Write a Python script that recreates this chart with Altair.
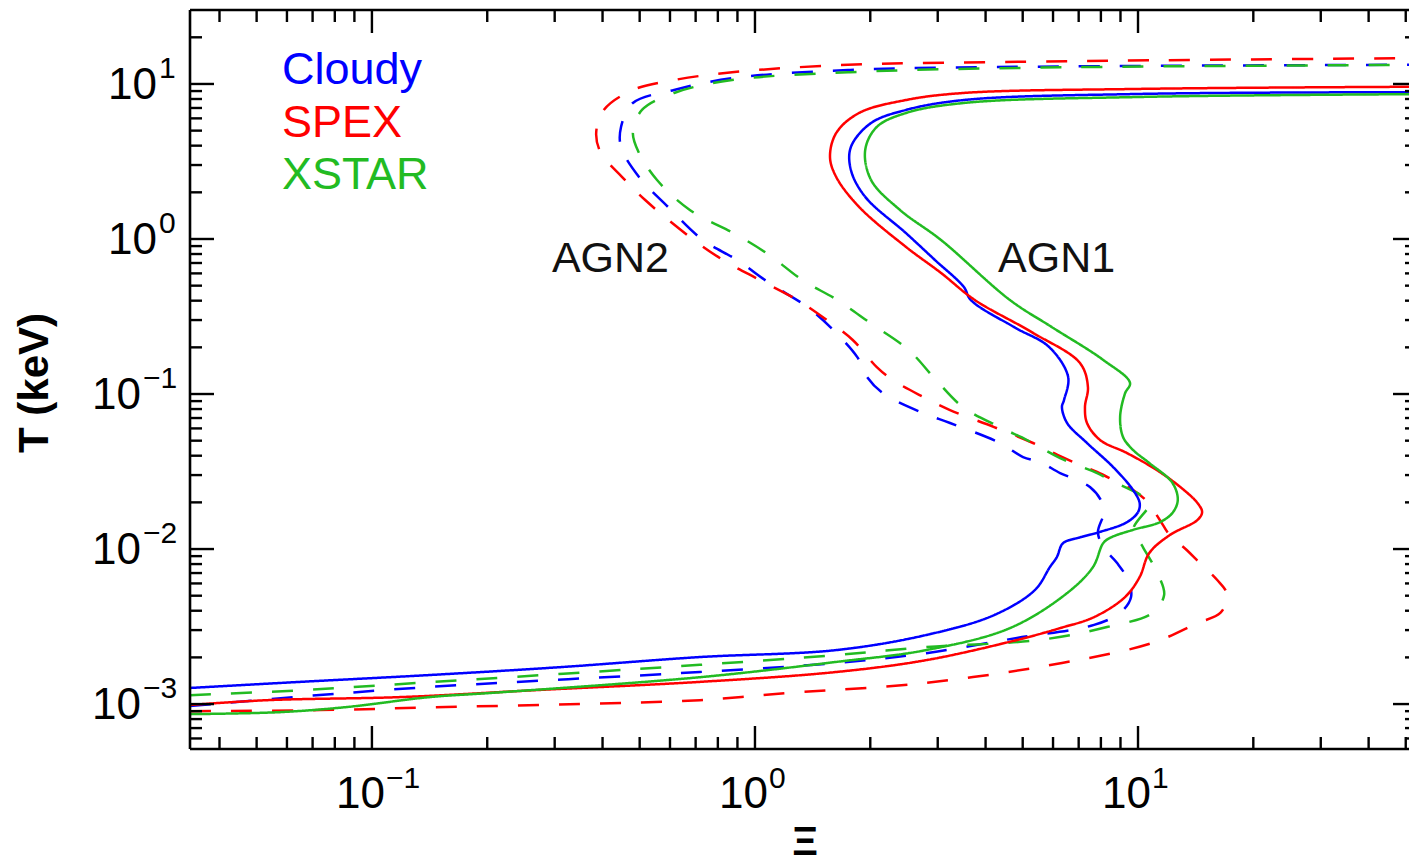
import altair as alt
import pandas as pd

# ---------------- data ----------------
models = ["Cloudy", "SPEX", "XSTAR"]
model_colors = ["#0000ff", "#ff0000", "#22bb22"]

# AGN1 (solid)
cloudy_agn1_xi = [0.0335, 0.0649, 0.142, 0.310, 0.718, 1.63, 2.80, 4.21, 5.38, 5.89, 6.14, 6.37, 7.06, 7.96,
                  9.36, 10.0, 10.1, 9.71, 8.61, 7.36, 6.53, 6.33, 6.41, 6.57, 5.86, 4.75, 3.66, 3.51, 2.95,
                  2.48, 1.94, 1.78, 1.78, 2.01, 2.48, 3.51, 10.0, 55.0]
cloudy_agn1_T = [0.00127, 0.00139, 0.00154, 0.00173, 0.00201, 0.00223, 0.00279, 0.00375, 0.00544, 0.00766,
                 0.00888, 0.0109, 0.0119, 0.0129, 0.0149, 0.0173, 0.0198, 0.0240, 0.0338, 0.0483, 0.0650,
                 0.0824, 0.0915, 0.129, 0.201, 0.270, 0.404, 0.490, 0.732, 1.09, 1.87, 2.79, 3.92, 5.60,
                 6.80, 7.88, 8.62, 8.85]

spex_agn1_xi = [0.0335, 0.0535, 0.120, 0.268, 0.718, 1.63, 2.80, 4.83, 6.26, 7.68, 9.25, 10.1, 10.7, 12.1,
                14.3, 14.7, 14.3, 12.9, 11.2, 9.36, 7.96, 7.36, 7.27, 7.40, 7.06, 5.32, 3.75, 3.06, 2.48,
                1.87, 1.63, 1.57, 1.63, 1.87, 2.48, 3.51, 10.0, 55.0]
spex_agn1_T = [0.000986, 0.00106, 0.00111, 0.00123, 0.00139, 0.00161, 0.00192, 0.00259, 0.00309, 0.00364,
               0.00490, 0.00660, 0.00942, 0.0123, 0.0154, 0.0173, 0.0198, 0.0251, 0.0323, 0.0416, 0.0505,
               0.0650, 0.0824, 0.111, 0.158, 0.248, 0.404, 0.604, 0.888, 1.61, 2.51, 3.38, 4.83, 6.50,
               7.88, 8.75, 9.29, 9.6]

xstar_agn1_xi = [0.0335, 0.0575, 0.0861, 0.142, 0.205, 0.718, 1.63, 2.80, 4.63, 6.53, 7.63, 8.11, 8.45, 9.71,
                 11.4, 12.3, 12.7, 12.3, 10.7, 9.71, 9.14, 8.98, 9.25, 9.53, 8.11, 5.96, 4.63, 3.06, 2.39,
                 2.01, 1.94, 2.08, 2.48, 3.51, 10.0, 55.0]
xstar_agn1_T = [0.000861, 0.000887, 0.000957, 0.00111, 0.00118, 0.00149, 0.00187, 0.00223, 0.00309, 0.00520,
                0.00766, 0.0109, 0.0118, 0.0133, 0.0149, 0.0171, 0.0207, 0.0267, 0.0359, 0.0435, 0.0528,
                0.0711, 0.101, 0.118, 0.166, 0.270, 0.404, 0.985, 1.54, 2.40, 3.75, 5.28, 6.50, 7.54,
                8.24, 8.6]

# AGN2 (dashed)
cloudy_agn2_xi = [0.0335, 0.0689, 0.142, 0.718, 1.63, 2.80, 4.83, 7.68, 9.03, 9.59, 9.42, 8.82, 8.11, 7.86,
                  8.15, 8.0, 7.49, 6.93, 6.26, 5.55, 5.01, 4.36, 3.23, 2.75, 2.16, 1.96, 1.85, 1.60, 1.37,
                  1.09, 0.898, 0.731, 0.593, 0.498, 0.447, 0.447, 0.480, 0.615, 0.871, 1.75, 4.98, 55.0]
cloudy_agn2_T = [0.000971, 0.00113, 0.00129, 0.00161, 0.00184, 0.00213, 0.00267, 0.00324, 0.00392, 0.00490,
                 0.00631, 0.00812, 0.0103, 0.0129, 0.0173, 0.0207, 0.0251, 0.0279, 0.0309, 0.0364, 0.0392,
                 0.0483, 0.0650, 0.0753, 0.101, 0.129, 0.173, 0.259, 0.364, 0.520, 0.732, 0.985, 1.61,
                 2.51, 3.92, 5.28, 7.54, 9.15, 10.9, 12.3, 12.9, 13.3]

spex_agn2_xi = [0.0335, 0.0731, 0.156, 0.349, 0.718, 1.23, 2.80, 6.33, 10.9, 14.3, 16.4, 17.1, 16.1, 14.5,
                13.4, 12.1, 11.4, 10.6, 9.71, 8.82, 7.82, 7.06, 6.18, 5.32, 4.21, 3.23, 2.75, 2.29, 2.08,
                1.80, 1.54, 1.29, 1.03, 0.825, 0.676, 0.516, 0.450, 0.396, 0.385, 0.403, 0.480, 0.615,
                0.871, 1.75, 4.98, 14.2, 55.0]
spex_agn2_T = [0.000900, 0.000914, 0.000957, 0.00100, 0.00106, 0.00118, 0.00137, 0.00184, 0.00248, 0.00333,
               0.00387, 0.00505, 0.00631, 0.00812, 0.00986, 0.0123, 0.0154, 0.0201, 0.0240, 0.0271, 0.0314,
               0.0348, 0.0404, 0.0483, 0.0612, 0.0788, 0.0957, 0.123, 0.149, 0.223, 0.300, 0.404, 0.543,
               0.732, 1.03, 1.79, 2.51, 3.59, 4.83, 6.80, 9.15, 10.6, 11.9, 13.3, 13.9, 14.3, 14.7]

xstar_agn2_xi = [0.0335, 0.0661, 0.133, 0.718, 1.63, 2.80, 5.52, 8.30, 10.9, 11.7, 11.3, 10.3, 9.71, 10.7,
                 10.6, 9.94, 8.45, 7.82, 6.26, 5.13, 4.36, 3.49, 2.97, 2.52, 2.00, 1.64, 1.33, 1.09, 0.898,
                 0.676, 0.555, 0.498, 0.480, 0.507, 0.615, 0.871, 1.75, 4.98, 55.0]
xstar_agn2_T = [0.00114, 0.00123, 0.00137, 0.00179, 0.00207, 0.00233, 0.00259, 0.00314, 0.00387, 0.00505,
                0.00680, 0.0103, 0.0133, 0.0192, 0.0207, 0.0230, 0.0279, 0.0309, 0.0386, 0.0505, 0.0612,
                0.0824, 0.123, 0.192, 0.287, 0.404, 0.543, 0.788, 1.06, 1.54, 2.40, 3.59, 4.83, 6.80,
                8.75, 10.6, 11.9, 12.7, 13.3]

# axis ticks and labels
x_major_ticks = [0.1, 1.0, 10.0]
x_major_exps = ["\u22121", "0", "1"]
x_minor_ticks = [0.04, 0.05, 0.06, 0.07, 0.08, 0.09,
                 0.2, 0.3, 0.4, 0.5, 0.6, 0.7, 0.8, 0.9,
                 2, 3, 4, 5, 6, 7, 8, 9, 20, 30, 40, 50]
y_major_ticks = [0.001, 0.01, 0.1, 1.0, 10.0]
y_major_exps = ["\u22123", "\u22122", "\u22121", "0", "1"]
y_minor_ticks = [0.0006, 0.0007, 0.0008, 0.0009,
                 0.002, 0.003, 0.004, 0.005, 0.006, 0.007, 0.008, 0.009,
                 0.02, 0.03, 0.04, 0.05, 0.06, 0.07, 0.08, 0.09,
                 0.2, 0.3, 0.4, 0.5, 0.6, 0.7, 0.8, 0.9,
                 2, 3, 4, 5, 6, 7, 8, 9, 20]

legend_names = ["Cloudy", "SPEX", "XSTAR"]
legend_xi = [0.0582, 0.0582, 0.0582]
legend_T = [10.0, 4.55, 2.10]

region_names = ["AGN2", "AGN1"]
region_xi = [0.295, 4.31]
region_T = [0.612, 0.612]

# ---------------- build tables ----------------
series = [
    ("Cloudy", "AGN2", cloudy_agn2_xi, cloudy_agn2_T),
    ("SPEX", "AGN2", spex_agn2_xi, spex_agn2_T),
    ("XSTAR", "AGN2", xstar_agn2_xi, xstar_agn2_T),
    ("Cloudy", "AGN1", cloudy_agn1_xi, cloudy_agn1_T),
    ("SPEX", "AGN1", spex_agn1_xi, spex_agn1_T),
    ("XSTAR", "AGN1", xstar_agn1_xi, xstar_agn1_T),
]
rows = []
for model, agn, xs, ts in series:
    assert len(xs) == len(ts), (model, agn, len(xs), len(ts))
    for i, (a, b) in enumerate(zip(xs, ts)):
        rows.append({"model": model, "agn": agn, "series": model + "-" + agn, "i": i, "xi": a, "T": b})
df = pd.DataFrame(rows)

W, H = 1219, 739
XR = 1227
FONT = "Liberation Sans"
xscale = alt.Scale(type="log", domain=[0.0335, 53.5], range=[0, XR])
yscale = alt.Scale(type="log", domain=[5.13e-4, 30.0])

layers = []

lines = alt.Chart(df).mark_line(clip=True, strokeWidth=2.5, interpolate="catmull-rom").encode(
    x=alt.X("xi:Q", scale=xscale, axis=None),
    y=alt.Y("T:Q", scale=yscale, axis=None),
    color=alt.Color("model:N", scale=alt.Scale(domain=models, range=model_colors), legend=None),
    strokeDash=alt.StrokeDash("agn:N", scale=alt.Scale(domain=["AGN1", "AGN2"], range=[[1, 0], [21, 20]]),
                              legend=None),
    detail="series:N",
    order="i:Q",
)
layers.append(lines)

# frame (left, top, bottom; the right side lies past the picture edge)
one = alt.Data(values=[{"a": 1}])
FW = 2.6
layers.append(alt.Chart(one).mark_rule(color="black", strokeWidth=FW).encode(
    x=alt.value(0), y=alt.value(0), y2=alt.value(H)))
layers.append(alt.Chart(one).mark_rule(color="black", strokeWidth=FW).encode(
    y=alt.value(0), x=alt.value(0), x2=alt.value(XR)))
layers.append(alt.Chart(one).mark_rule(color="black", strokeWidth=FW).encode(
    y=alt.value(H), x=alt.value(0), x2=alt.value(XR)))

# inward ticks
xt_major = pd.DataFrame({"v": x_major_ticks, "exp": x_major_exps})
xt_minor = pd.DataFrame({"v": x_minor_ticks})
yt_major = pd.DataFrame({"v": y_major_ticks, "exp": y_major_exps,
                         "neg": [e.startswith("\u2212") for e in y_major_exps]})
yt_minor = pd.DataFrame({"v": y_minor_ticks})

for tdf, L in [(xt_major, 23), (xt_minor, 12)]:
    layers.append(alt.Chart(tdf).mark_rule(color="black", strokeWidth=2.4).encode(
        x=alt.X("v:Q", scale=xscale), y=alt.value(H), y2=alt.value(H - L)))
    layers.append(alt.Chart(tdf).mark_rule(color="black", strokeWidth=2.4).encode(
        x=alt.X("v:Q", scale=xscale), y=alt.value(0), y2=alt.value(L)))
for tdf, L in [(yt_major, 24), (yt_minor, 12)]:
    layers.append(alt.Chart(tdf).mark_rule(color="black", strokeWidth=2.4).encode(
        y=alt.Y("v:Q", scale=yscale), x=alt.value(0), x2=alt.value(L)))
    layers.append(alt.Chart(tdf).mark_rule(color="black", strokeWidth=2.4).encode(
        y=alt.Y("v:Q", scale=yscale), x=alt.value(XR), x2=alt.value(XR - L)))

# x tick labels: "10" + superscript exponent
layers.append(alt.Chart(xt_major).mark_text(font=FONT, fontSize=44, align="right", baseline="alphabetic",
                                            dx=13, color="black").encode(
    x=alt.X("v:Q", scale=xscale), y=alt.value(798), text=alt.value("10")))
layers.append(alt.Chart(xt_major).mark_text(font=FONT, fontSize=30, align="left", baseline="alphabetic",
                                            dx=14, color="black").encode(
    x=alt.X("v:Q", scale=xscale), y=alt.value(778), text="exp:N"))

# y tick labels
for neg, xb in [(True, -49), (False, -33)]:
    sub = yt_major[yt_major["neg"] == neg]
    layers.append(alt.Chart(sub).mark_text(font=FONT, fontSize=44, align="right", baseline="alphabetic",
                                           dy=15, color="black").encode(
        y=alt.Y("v:Q", scale=yscale), x=alt.value(xb), text=alt.value("10")))
    layers.append(alt.Chart(sub).mark_text(font=FONT, fontSize=30, align="left", baseline="alphabetic",
                                           dy=-6, color="black").encode(
        y=alt.Y("v:Q", scale=yscale), x=alt.value(xb + 2), text="exp:N"))

# axis titles
layers.append(alt.Chart(one).mark_text(font=FONT, fontSize=42, fontWeight="bold", angle=270,
                                       align="center", baseline="middle", color="black").encode(
    x=alt.value(-155), y=alt.value(373), text=alt.value("T (keV)")))
layers.append(alt.Chart(one).mark_text(font=FONT, fontSize=40, fontWeight="bold",
                                       align="center", baseline="alphabetic", color="black").encode(
    x=alt.value(615), y=alt.value(845), text=alt.value("\u039e")))

# in-plot legend text
leg = pd.DataFrame({"name": legend_names, "xi": legend_xi, "T": legend_T})
layers.append(alt.Chart(leg).mark_text(font=FONT, fontSize=45, align="left", baseline="alphabetic").encode(
    x=alt.X("xi:Q", scale=xscale), y=alt.Y("T:Q", scale=yscale), text="name:N",
    color=alt.Color("name:N", scale=alt.Scale(domain=models, range=model_colors), legend=None)))

# region labels
reg = pd.DataFrame({"name": region_names, "xi": region_xi, "T": region_T})
layers.append(alt.Chart(reg).mark_text(font=FONT, fontSize=43, align="left", baseline="alphabetic",
                                       color="#111111").encode(
    x=alt.X("xi:Q", scale=xscale), y=alt.Y("T:Q", scale=yscale), text="name:N"))

chart = alt.layer(*layers).properties(
    width=W, height=H,
    autosize=alt.AutoSizeParams(type="none"),
    padding={"left": 190, "top": 10, "right": 0, "bottom": 113},
    background="white",
).configure_view(stroke=None)

chart.save("out.html", embed_options={"renderer": "svg", "actions": False})
